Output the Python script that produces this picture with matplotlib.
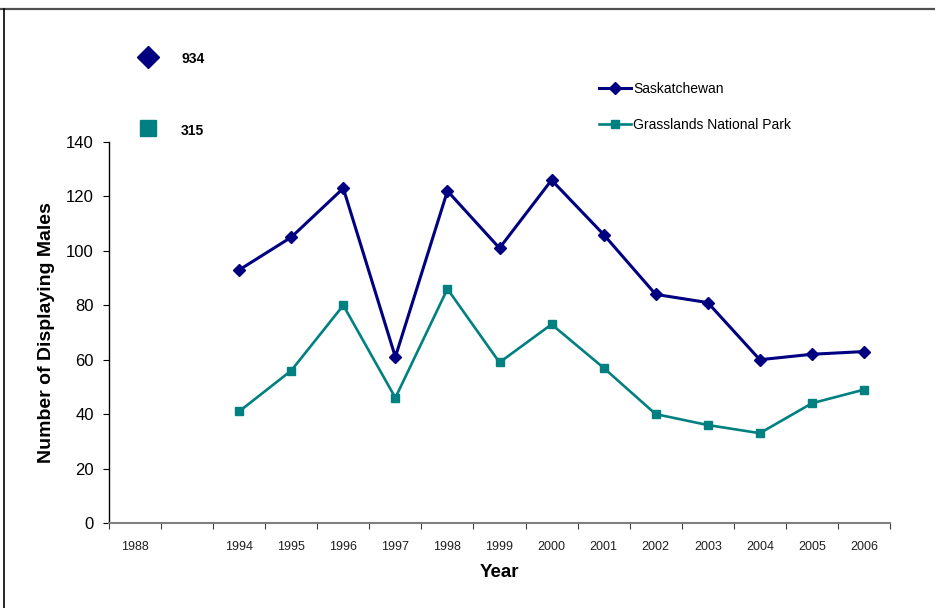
import matplotlib.pyplot as plt
from matplotlib.lines import Line2D
import numpy as np

plt.rcParams["font.family"] = ["Liberation Sans", "DejaVu Sans"]

# categories on the x axis (one blank slot between 1988 and 1994)
years = ["1988", "", "1994", "1995", "1996", "1997", "1998", "1999", "2000",
         "2001", "2002", "2003", "2004", "2005", "2006"]
# 1988 counts are off the scale, shown as separate markers
sask_1988 = 934
grass_1988 = 315
sask = [np.nan, np.nan, 93, 105, 123, 61, 122, 101, 126, 106, 84, 81, 60, 62, 63]
grass = [np.nan, np.nan, 41, 56, 80, 46, 86, 59, 73, 57, 40, 36, 33, 44, 49]

navy = "#000080"
teal = "#008080"

fig = plt.figure(figsize=(9.35, 6.08), dpi=100)
ax = fig.add_axes([109 / 935, 1 - 523 / 608, 781 / 935, 381 / 608])

x = np.arange(len(years))
ax.plot(x, sask, color=navy, lw=2.2, marker="D", ms=6.5, label="Saskatchewan")
ax.plot(x, grass, color=teal, lw=1.9, marker="s", ms=5.5, label="Grasslands National Park")

ax.set_xlim(-0.5, len(years) - 0.5)
ax.set_ylim(0, 140)
ax.set_yticks(range(0, 141, 20))
ax.tick_params(axis="y", labelsize=12, length=4, pad=7, direction="out")

# ticks between categories, labels at the category centres
ax.set_xticks(np.arange(-0.5, len(years), 1.0))
ax.set_xticklabels([])
ax.tick_params(axis="x", which="major", length=4, color="#404040", direction="out")
ax.set_xticks(x, minor=True)
ax.set_xticklabels(years, minor=True, fontsize=9, color="#202020")
ax.tick_params(axis="x", which="minor", length=0, pad=13)

for side in ("top", "right"):
    ax.spines[side].set_visible(False)
ax.spines["bottom"].set_color("#808080")
ax.spines["bottom"].set_linewidth(1.5)
ax.spines["left"].set_linewidth(1.0)

ax.set_xlabel("Year", fontsize=13.5, fontweight="bold", labelpad=8)
ax.set_ylabel("Number of Displaying Males", fontsize=14, fontweight="bold", labelpad=8)

ax.legend(loc="upper left", bbox_to_anchor=(0.6205, 1.172), frameon=False, fontsize=10,
          handlelength=2.3, handletextpad=0.15, labelspacing=1.6, borderaxespad=0)

# 1988 markers drawn above the plot area
fig.add_artist(Line2D([148 / 935], [1 - 57 / 608], marker="D", ms=11, color=navy,
                      transform=fig.transFigure))
fig.text(181 / 935, 1 - 59 / 608, str(sask_1988), fontsize=10, fontweight="bold", va="center")
fig.add_artist(Line2D([148 / 935], [1 - 128 / 608], marker="s", ms=11, color=teal,
                      transform=fig.transFigure))
fig.text(181 / 935, 1 - 131 / 608, str(grass_1988), fontsize=10, fontweight="bold", va="center")

# outer frame (top and left edges visible)
fig.add_artist(Line2D([0, 1], [1 - 9 / 608, 1 - 9 / 608], color="#505050", lw=1.6,
                      transform=fig.transFigure))
fig.add_artist(Line2D([4 / 935, 4 / 935], [0, 1 - 9 / 608], color="black", lw=1.2,
                      transform=fig.transFigure))

fig.savefig("out.png", dpi=100)
